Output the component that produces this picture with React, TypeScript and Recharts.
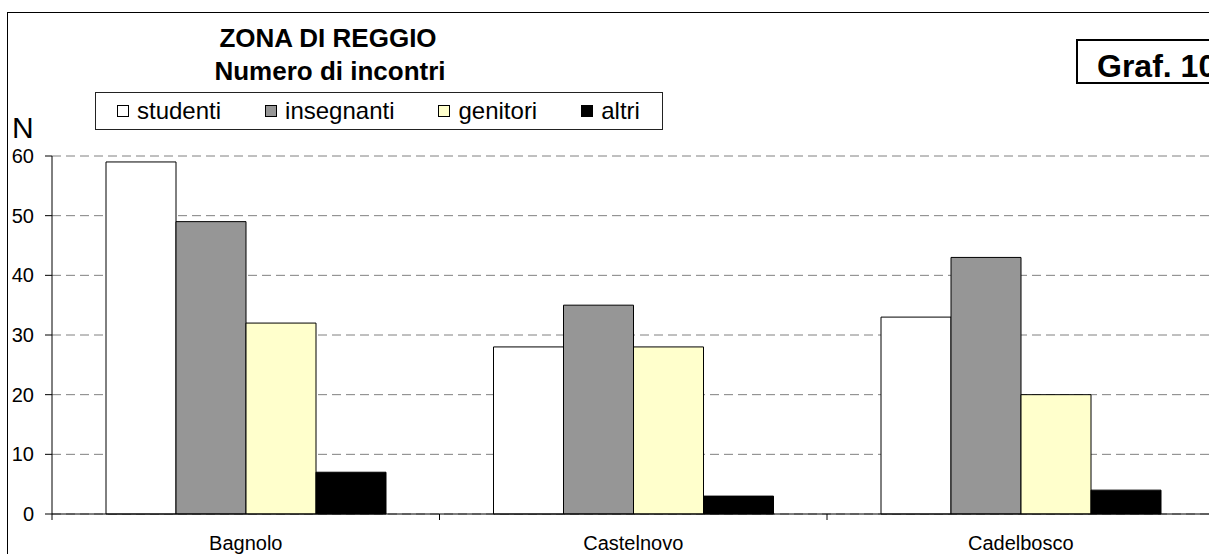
import React from 'react';
import { BarChart, Bar, XAxis, YAxis, CartesianGrid, Legend } from 'recharts';

const categories = ['Bagnolo', 'Castelnovo', 'Cadelbosco'];
const studenti = [59, 28, 33];
const insegnanti = [49, 35, 43];
const genitori = [32, 28, 20];
const altri = [7, 3, 4];
const yTicks = [0, 10, 20, 30, 40, 50, 60];
const seriesKeys = ['studenti', 'insegnanti', 'genitori', 'altri'];
const seriesColors = ['#FFFFFF', '#969696', '#FFFFCC', '#000000'];
const seriesValues = [studenti, insegnanti, genitori, altri];

const data = categories.map((name, i) => {
  const row: Record<string, string | number> = { name };
  seriesKeys.forEach((k, s) => {
    row[k] = seriesValues[s][i];
  });
  return row;
});

const FONT = '"Liberation Sans", Arial, Helvetica, sans-serif';

const XTick = (props: any) => {
  const { x, y, payload, index, visibleTicksCount } = props;
  const half = payload && typeof payload.offset === 'number' ? payload.offset : 0;
  const last = index === (visibleTicksCount ?? categories.length) - 1;
  return (
    <g>
      <line x1={x - half} x2={x - half} y1={y} y2={y + 6} stroke="#000" strokeWidth={1} />
      {last && <line x1={x + half} x2={x + half} y1={y} y2={y + 6} stroke="#000" strokeWidth={1} />}
      <text x={x} y={y + 36} textAnchor="middle" fontSize={20} fill="#000" fontFamily={FONT}>
        {payload.value}
      </text>
    </g>
  );
};

const LegendContent = (props: any) => {
  const payload = [...(props.payload || [])].sort(
    (a: any, b: any) => seriesKeys.indexOf(a.dataKey) - seriesKeys.indexOf(b.dataKey)
  );
  return (
    <div
      style={{
        boxSizing: 'border-box',
        width: '100%',
        height: '100%',
        border: '1px solid #222',
        background: '#fff',
        display: 'flex',
        alignItems: 'center',
        paddingLeft: 21,
        fontFamily: FONT,
        fontSize: 24,
        color: '#000',
        whiteSpace: 'nowrap',
        overflow: 'hidden',
      }}
    >
      {payload.map((p: any, i: number) => (
        <div key={i} style={{ display: 'flex', alignItems: 'center', marginRight: 44 }}>
          <span
            style={{
              display: 'inline-block',
              boxSizing: 'border-box',
              width: 12,
              height: 12,
              border: '1px solid #000',
              background: p.color,
              marginRight: 8,
            }}
          />
          <span style={{ lineHeight: '24px' }}>{p.value}</span>
        </div>
      ))}
    </div>
  );
};

export default function App() {
  return (
    <div
      style={{
        position: 'fixed',
        left: 0,
        top: 0,
        width: 1209,
        height: 554,
        overflow: 'hidden',
        background: '#fff',
        fontFamily: FONT,
      }}
    >
      <div
        style={{
          position: 'absolute',
          left: 7,
          top: 12,
          width: 1400,
          height: 800,
          border: '1px solid #000',
          boxSizing: 'border-box',
        }}
      />
      <div style={{ position: 'absolute', left: 0, top: 0 }}>
        <BarChart
          width={1270}
          height={600}
          data={data}
          margin={{ top: 156, right: 55.5, left: 0, bottom: 46 }}
          barGap={0}
          style={{ fontFamily: FONT }}
        >
          <CartesianGrid vertical={false} stroke="#808080" strokeDasharray="9 5" />
          <XAxis
            dataKey="name"
            height={40}
            axisLine={{ stroke: '#000' }}
            tickLine={false}
            tickSize={0}
            tickMargin={0}
            interval={0}
            tick={<XTick />}
          />
          <YAxis
            width={52}
            domain={[0, 60]}
            ticks={yTicks}
            interval={0}
            axisLine={{ stroke: '#000' }}
            tickLine={{ stroke: '#000' }}
            tickSize={7}
            tickMargin={11}
            tick={{ fill: '#000', fontSize: 20, fontFamily: FONT }}
          />
          <Legend
            layout="horizontal"
            verticalAlign="middle"
            align="center"
            content={<LegendContent />}
            wrapperStyle={{ left: 95, top: 92, width: 568, height: 38 }}
          />
          {seriesKeys.map((k, s) => (
            <Bar
              key={k}
              dataKey={k}
              name={k}
              fill={seriesColors[s]}
              stroke="#000"
              strokeWidth={1}
              barSize={70}
              isAnimationActive={false}
            />
          ))}
        </BarChart>
      </div>
      <svg
        width={1209}
        height={554}
        style={{ position: 'absolute', left: 0, top: 0, pointerEvents: 'none' }}
      >
        <text x={328} y={47} textAnchor="middle" fontSize={26} fontWeight="bold" fontFamily={FONT} fill="#000">
          ZONA DI REGGIO
        </text>
        <text x={330} y={80} textAnchor="middle" fontSize={26} fontWeight="bold" fontFamily={FONT} fill="#000">
          Numero di incontri
        </text>
        <text x={12} y={138} fontSize={30} fontFamily={FONT} fill="#000">
          N
        </text>
        <rect x={1077} y={40} width={200} height={43} fill="#fff" stroke="#000" strokeWidth={2} />
        <text x={1097} y={77} fontSize={32} fontWeight="bold" fontFamily={FONT} fill="#000">
          Graf. 10
        </text>
      </svg>
    </div>
  );
}
